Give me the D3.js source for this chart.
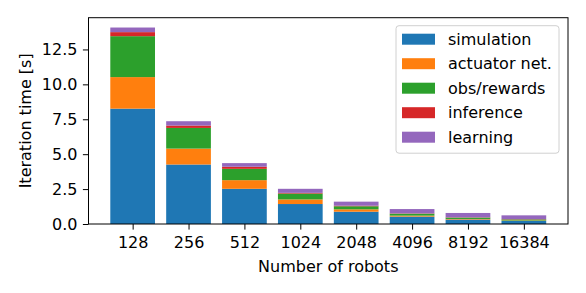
<!DOCTYPE html>
<html lang="en">
<head>
<meta charset="UTF-8">
<title>Iteration time vs number of robots</title>
<script src="https://cdnjs.cloudflare.com/ajax/libs/d3/7.8.5/d3.min.js"></script>
<style>
    body { margin: 0; background: #fff; }
    svg { display: block; font-family: "DejaVu Sans", sans-serif; }
    .tick text { font-family: "DejaVu Sans", sans-serif; font-size: 16px; fill: #000; }
    .axis-label { font-size: 16px; }
    .legend text { font-size: 16px; }
</style>
</head>
<body>
<div id="chart"></div>
<script>
const robots = ["128", "256", "512", "1024", "2048", "4096", "8192", "16384"];
const series = ["simulation", "actuator net.", "obs/rewards", "inference", "learning"];
const simulation = [8.26, 4.26, 2.52, 1.43, 0.88, 0.53, 0.32, 0.22];
const actuator   = [2.26, 1.14, 0.62, 0.33, 0.17, 0.07, 0.04, 0.03];
const obsRewards = [2.93, 1.48, 0.81, 0.42, 0.22, 0.14, 0.10, 0.08];
const inference  = [0.29, 0.17, 0.15, 0.05, 0.04, 0.02, 0.02, 0.02];
const learning   = [0.33, 0.31, 0.26, 0.29, 0.29, 0.31, 0.31, 0.27];
const yTicks = [0, 2.5, 5, 7.5, 10, 12.5];
const colors = ["#1f77b4", "#ff7f0e", "#2ca02c", "#d62728", "#9467bd"];

const rows = robots.map((r, i) => ({
    robots: r,
    "simulation": simulation[i],
    "actuator net.": actuator[i],
    "obs/rewards": obsRewards[i],
    "inference": inference[i],
    "learning": learning[i]
}));

const W = 586, H = 293;
const margin = {top: 17.7, right: 18, bottom: 69, left: 88.5};
const width = W - margin.left - margin.right;
const height = H - margin.top - margin.bottom;

const svg = d3.select("#chart").append("svg")
    .attr("width", W).attr("height", H);
const g = svg.append("g")
    .attr("transform", `translate(${margin.left},${margin.top})`);

const stacked = d3.stack().keys(series)(rows);
const maxTotal = d3.max(stacked[stacked.length - 1], d => d[1]);

// matplotlib-like margins: band of 0.8 with 5% padding on each side
const n = robots.length;
const xLin = d3.scaleLinear()
    .domain([-0.4 - 0.05 * (n - 0.2), n - 0.6 + 0.05 * (n - 0.2)])
    .range([0, width]);
const barW = xLin(0.8) - xLin(0);

const y = d3.scaleLinear().domain([0, maxTotal * 1.05]).range([height, 0]);
const color = d3.scaleOrdinal().domain(series).range(colors);

// bars
g.selectAll(".layer")
    .data(stacked)
    .join("g")
    .attr("class", "layer")
    .attr("fill", d => color(d.key))
    .selectAll("rect")
    .data(d => d)
    .join("rect")
    .attr("x", (d, i) => xLin(i) - barW / 2)
    .attr("y", d => y(d[1]))
    .attr("width", barW)
    .attr("height", d => y(d[0]) - y(d[1]));

// axes
const xAxis = d3.axisBottom(xLin)
    .tickValues(d3.range(n))
    .tickFormat(i => robots[i])
    .tickSize(5.6).tickPadding(7);
g.append("g")
    .attr("transform", `translate(0,${height})`)
    .call(xAxis)
    .call(s => s.select(".domain").remove());

const yAxis = d3.axisLeft(y)
    .tickValues(yTicks)
    .tickFormat(d3.format(".1f"))
    .tickSize(5.6).tickPadding(5.5);
g.append("g")
    .call(yAxis)
    .call(s => s.select(".domain").remove());

g.selectAll(".tick line").attr("stroke", "#000").attr("stroke-width", 1);

// frame
g.append("rect")
    .attr("width", width).attr("height", height)
    .attr("fill", "none").attr("stroke", "#000").attr("stroke-width", 1);

// labels
svg.append("text")
    .attr("class", "axis-label")
    .attr("x", margin.left + width / 2)
    .attr("y", 271.7)
    .attr("text-anchor", "middle")
    .text("Number of robots");

svg.append("text")
    .attr("class", "axis-label")
    .attr("transform", `translate(30.5,${margin.top + height / 2}) rotate(-90)`)
    .attr("text-anchor", "middle")
    .text("Iteration time [s]");

// legend
const legend = svg.append("g").attr("class", "legend")
    .attr("transform", "translate(396,25.7)");
legend.append("rect")
    .attr("width", 163).attr("height", 127.5)
    .attr("rx", 3)
    .attr("fill", "#fff").attr("fill-opacity", 0.8)
    .attr("stroke", "#d0d0d0");
const items = legend.selectAll(".item")
    .data(series)
    .join("g")
    .attr("class", "item")
    .attr("transform", (d, i) => `translate(6,${13.5 + i * 24.5})`);
items.append("rect")
    .attr("y", -5.5)
    .attr("width", 33).attr("height", 11)
    .attr("fill", d => color(d));
items.append("text")
    .attr("x", 46)
    .attr("dy", "0.35em")
    .text(d => d);
</script>
</body>
</html>
